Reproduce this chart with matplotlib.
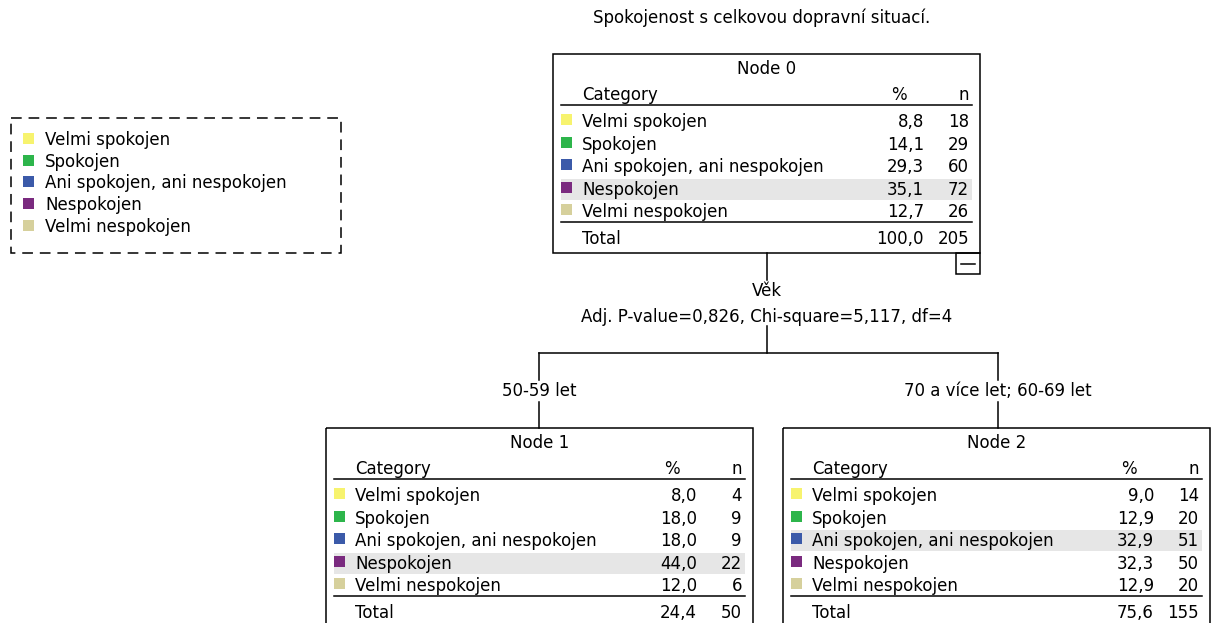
import matplotlib
matplotlib.use('Agg')
import matplotlib.pyplot as plt
from matplotlib.patches import Rectangle
import numpy as np

# data
title = 'Spokojenost s celkovou dopravní situací.'
categories = ['Velmi spokojen', 'Spokojen', 'Ani spokojen, ani nespokojen', 'Nespokojen', 'Velmi nespokojen']
cat_colors = ['#f7f36e', '#2db54b', '#3b5aa9', '#7a2a7f', '#d6d09c']

node0_pct = [8.8, 14.1, 29.3, 35.1, 12.7]
node0_n = [18, 29, 60, 72, 26]
node0_total = (100.0, 205)

node1_pct = [8.0, 18.0, 18.0, 44.0, 12.0]
node1_n = [4, 9, 9, 22, 6]
node1_total = (24.4, 50)

node2_pct = [9.0, 12.9, 32.9, 32.3, 12.9]
node2_n = [14, 20, 51, 50, 20]
node2_total = (75.6, 155)

split_var = 'Věk'
split_stats = 'Adj. P-value=0,826, Chi-square=5,117, df=4'
branch_labels = ['50-59 let', '70 a více let; 60-69 let']

FS = 12
FONT = 'DejaVu Sans'
LW = 1.1


def fmt(v):
	return ('%.1f' % v).replace('.', ',')


def draw_node(ax, x0, y0, name, pct, n, total, h=210, w=427):
	ax.add_patch(Rectangle((x0, y0), w, h, fill=False, edgecolor='black', lw=LW))
	cx = x0 + w / 2
	ax.text(cx, y0 + 15, name, ha='center', va='center', fontsize=FS, family=FONT)
	lx = x0 + 29
	px = x0 + 371
	nx = x0 + 416
	ax.text(lx, y0 + 41, 'Category', ha='left', va='center', fontsize=FS, family=FONT)
	ax.text(px - 17, y0 + 41, '%', ha='right', va='center', fontsize=FS, family=FONT)
	ax.text(nx, y0 + 41, 'n', ha='right', va='center', fontsize=FS, family=FONT)
	ax.plot([x0 + 8, x0 + 419], [y0 + 51, y0 + 51], color='black', lw=LW)
	top = int(np.argmax(pct))
	for i in range(len(categories)):
		ry = y0 + 68 + i * 22.6
		if i == top:
			ax.add_patch(Rectangle((x0 + 8, ry - 11), 411, 21, color='#e6e6e6', lw=0))
		ax.add_patch(Rectangle((x0 + 8, ry - 8), 11, 11, color=cat_colors[i], lw=0))
		ax.text(lx, ry, categories[i], ha='left', va='center', fontsize=FS, family=FONT)
		ax.text(px, ry, fmt(pct[i]), ha='right', va='center', fontsize=FS, family=FONT)
		ax.text(nx, ry, str(n[i]), ha='right', va='center', fontsize=FS, family=FONT)
	ax.plot([x0 + 8, x0 + 419], [y0 + 168, y0 + 168], color='black', lw=LW)
	ax.text(lx, y0 + 185, 'Total', ha='left', va='center', fontsize=FS, family=FONT)
	ax.text(px, y0 + 185, fmt(total[0]), ha='right', va='center', fontsize=FS, family=FONT)
	ax.text(nx, y0 + 185, str(total[1]), ha='right', va='center', fontsize=FS, family=FONT)


fig = plt.figure(figsize=(12.16, 6.23), dpi=100)
ax = fig.add_axes([0, 0, 1, 1])
ax.set_xlim(0, 1216)
ax.set_ylim(623, 0)
ax.axis('off')

ax.text(762, 18, title, ha='center', va='center', fontsize=FS, family=FONT)

# legend box
ax.add_patch(Rectangle((11, 118), 330, 135, fill=False, edgecolor='black', lw=LW, linestyle=(0, (7, 4.5))))
for i, (c, col) in enumerate(zip(categories, cat_colors)):
	ly = 140 + i * 21.7
	ax.add_patch(Rectangle((23, ly - 7), 11, 11, color=col, lw=0))
	ax.text(45, ly, c, ha='left', va='center', fontsize=FS, family=FONT)

# nodes
draw_node(ax, 553, 54, 'Node 0', node0_pct, node0_n, node0_total, h=199)
draw_node(ax, 326, 428, 'Node 1', node1_pct, node1_n, node1_total)
draw_node(ax, 783, 428, 'Node 2', node2_pct, node2_n, node2_total)

# collapse box
ax.add_patch(Rectangle((956, 253), 24, 21, fill=False, edgecolor='black', lw=LW))
ax.plot([961, 975], [263.5, 263.5], color='black', lw=LW)

# connectors
cx0 = 767
ax.plot([cx0, cx0], [253, 280], color='black', lw=LW)
ax.text(cx0, 291, split_var, ha='center', va='center', fontsize=FS, family=FONT)
ax.text(cx0, 317, split_stats, ha='center', va='center', fontsize=FS, family=FONT)
ax.plot([cx0, cx0], [326, 353], color='black', lw=LW)
bx = [539, 998]
ax.plot(bx, [353, 353], color='black', lw=LW)
for x, lab in zip(bx, branch_labels):
	ax.plot([x, x], [353, 380], color='black', lw=LW)
	ax.text(x, 391, lab, ha='center', va='center', fontsize=FS, family=FONT)
	ax.plot([x, x], [402, 428], color='black', lw=LW)

fig.savefig('out.png', dpi=100)
